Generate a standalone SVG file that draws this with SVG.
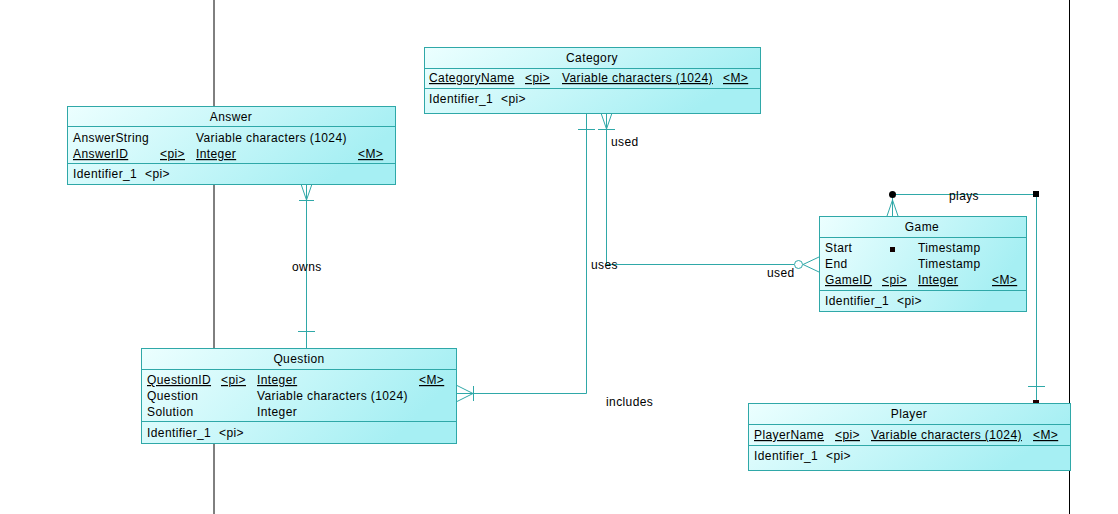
<svg xmlns="http://www.w3.org/2000/svg" width="1118" height="514" viewBox="0 0 1118 514">
<defs>
<linearGradient id="g" x1="0" y1="0" x2="1" y2="0.3">
<stop offset="0" stop-color="#ecffff"/>
<stop offset="1" stop-color="#a6eff3"/>
</linearGradient>
<style>
.box{fill:url(#g);stroke:#2fa8a8;stroke-width:1}
.sep{stroke:#2fa8a8;stroke-width:1}
.c{fill:none;stroke:#2fa8a8;stroke-width:1}
text{font-family:"Liberation Sans",Arial,sans-serif;font-size:12px;letter-spacing:0.4px;fill:#000}
.u{text-decoration:underline}
.m{text-anchor:middle}
</style>
</defs>
<rect width="1118" height="514" fill="#fff"/>
<g id="frame">
<line x1="214" y1="0" x2="214" y2="514" stroke="#000"/>
<line x1="1069.5" y1="0" x2="1069.5" y2="514" stroke="#000"/>
</g>
<g id="connectors">
<!-- owns -->
<path class="c" d="M306.5 184 V348 M301 184 L306.5 200 L312 184 M299 200.5 H314 M298 331.5 H315"/>
<text x="292" y="271">owns</text>
<!-- includes -->
<path class="c" d="M586.5 113 V393.5 H456 M578 129.5 H595 M456 385 L473 393.5 L456 402 M473.5 386 V401"/>
<text x="606" y="406">includes</text>
<!-- uses/used -->
<path class="c" d="M606.5 113 V264.5 H794 M601 113 L606.5 129 L612 113 M598 129.5 H615 M819 257 L803 264.5 L819 272"/>
<circle cx="798.5" cy="264.5" r="4" fill="#fff" stroke="#2fa8a8"/>
<text x="611" y="146">used</text>
<text x="591" y="269">uses</text>
<text x="767" y="277">used</text>
<!-- plays -->
<path class="c" d="M892.5 216 V194.5 H1036.5 V403 M887 216 L892.5 200 L898 216 M1028 386.5 H1045"/>
<circle cx="892.5" cy="194.5" r="3.5" fill="#000"/>
<rect x="1033" y="191" width="6" height="6" fill="#000"/>
<rect x="1033" y="400" width="6" height="6" fill="#200"/>
<text x="949" y="200">plays</text>
</g>
<g id="Category">
<rect class="box" x="424.5" y="47.5" width="336" height="66"/>
<line class="sep" x1="424.5" y1="68.5" x2="760.5" y2="68.5"/>
<line class="sep" x1="424.5" y1="88.5" x2="760.5" y2="88.5"/>
<text class="m" x="592" y="62">Category</text>
<text class="u" x="429" y="82">CategoryName</text>
<text class="u" x="525" y="82">&lt;pi&gt;</text>
<text class="u" x="562" y="82">Variable characters (1024)</text>
<text class="u" x="723" y="82">&lt;M&gt;</text>
<text x="429" y="103">Identifier_1</text>
<text x="501" y="103">&lt;pi&gt;</text>
</g>
<g id="Answer">
<rect class="box" x="67.5" y="106.5" width="328" height="78"/>
<line class="sep" x1="67.5" y1="126.5" x2="395.5" y2="126.5"/>
<line class="sep" x1="67.5" y1="163.5" x2="395.5" y2="163.5"/>
<text class="m" x="231" y="121">Answer</text>
<text x="73" y="142">AnswerString</text>
<text x="196" y="142">Variable characters (1024)</text>
<text class="u" x="73" y="158">AnswerID</text>
<text class="u" x="160" y="158">&lt;pi&gt;</text>
<text class="u" x="196" y="158">Integer</text>
<text class="u" x="358" y="158">&lt;M&gt;</text>
<text x="73" y="178">Identifier_1</text>
<text x="145" y="178">&lt;pi&gt;</text>
</g>
<g id="Question">
<rect class="box" x="141.5" y="348.5" width="315" height="95"/>
<line class="sep" x1="141.5" y1="369.5" x2="456.5" y2="369.5"/>
<line class="sep" x1="141.5" y1="421.5" x2="456.5" y2="421.5"/>
<text class="m" x="299" y="363">Question</text>
<text class="u" x="147" y="384">QuestionID</text>
<text class="u" x="221" y="384">&lt;pi&gt;</text>
<text class="u" x="257" y="384">Integer</text>
<text class="u" x="419" y="384">&lt;M&gt;</text>
<text x="147" y="400">Question</text>
<text x="257" y="400">Variable characters (1024)</text>
<text x="147" y="416">Solution</text>
<text x="257" y="416">Integer</text>
<text x="147" y="437">Identifier_1</text>
<text x="219" y="437">&lt;pi&gt;</text>
</g>
<g id="Game">
<rect class="box" x="819.5" y="216.5" width="207" height="95"/>
<line class="sep" x1="819.5" y1="237.5" x2="1026.5" y2="237.5"/>
<line class="sep" x1="819.5" y1="290.5" x2="1026.5" y2="290.5"/>
<text class="m" x="922" y="231">Game</text>
<text x="825" y="252">Start</text>
<rect x="890" y="247" width="5" height="5" fill="#100"/>
<text x="918" y="252">Timestamp</text>
<text x="825" y="268">End</text>
<text x="918" y="268">Timestamp</text>
<text class="u" x="825" y="284">GameID</text>
<text class="u" x="882" y="284">&lt;pi&gt;</text>
<text class="u" x="918" y="284">Integer</text>
<text class="u" x="992" y="284">&lt;M&gt;</text>
<text x="825" y="305">Identifier_1</text>
<text x="897" y="305">&lt;pi&gt;</text>
</g>
<g id="Player">
<rect class="box" x="748.5" y="403.5" width="322" height="67"/>
<line class="sep" x1="748.5" y1="424.5" x2="1070.5" y2="424.5"/>
<line class="sep" x1="748.5" y1="445.5" x2="1070.5" y2="445.5"/>
<text class="m" x="909" y="418">Player</text>
<text class="u" x="754" y="439">PlayerName</text>
<text class="u" x="835" y="439">&lt;pi&gt;</text>
<text class="u" x="871" y="439">Variable characters (1024)</text>
<text class="u" x="1033" y="439">&lt;M&gt;</text>
<text x="754" y="460">Identifier_1</text>
<text x="826" y="460">&lt;pi&gt;</text>
</g>
</svg>
